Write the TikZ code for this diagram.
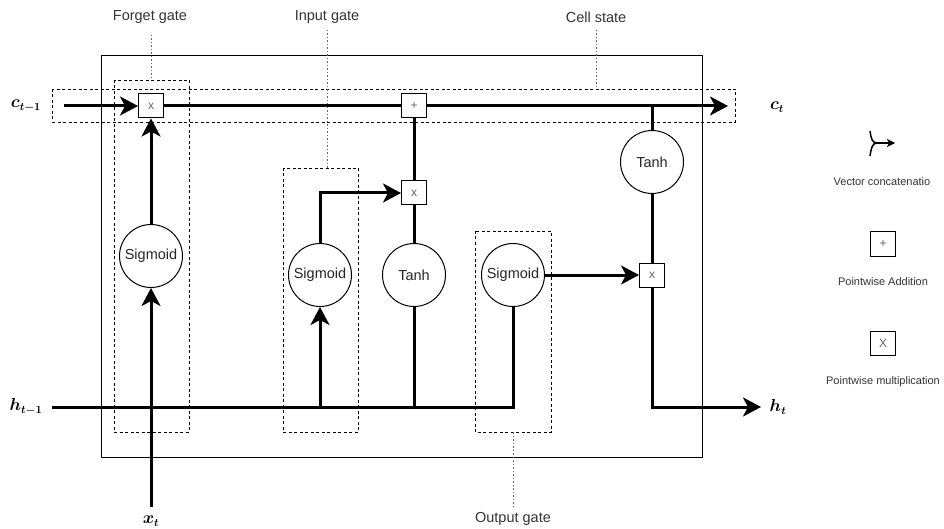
\documentclass[tikz,border=0pt]{standalone}
\usepackage{fontspec}
\setmainfont{Liberation Sans}
\usetikzlibrary{arrows.meta}

\definecolor{txt}{HTML}{333333}
\definecolor{boxtxt}{HTML}{666666}

\tikzset{
  flow/.style={line width=3pt},
  flowarrow/.style={line width=3pt, -{Stealth[length=18pt,width=19pt,inset=5pt]}},
  cellbox/.style={draw, line width=1pt},
  gatebox/.style={draw, line width=0.9pt, dash pattern=on 3pt off 2.5pt},
  hint/.style={draw=black!60, line width=0.9pt, dash pattern=on 1.5pt off 2pt},
  act/.style={circle, draw, line width=1pt, fill=white, minimum size=63pt, inner sep=0pt,
              font=\fontsize{14.5}{16}\selectfont, text=black!85},
  op/.style={rectangle, draw, line width=1pt, fill=white, minimum width=25pt, minimum height=24pt,
             inner sep=0pt, font=\fontsize{12}{13}\selectfont, text=boxtxt},
  caption/.style={font=\fontsize{14.5}{16}\selectfont, text=txt},
  legend/.style={font=\fontsize{11}{12}\selectfont, text=txt},
  var/.style={font=\fontsize{16}{18}\selectfont\boldmath},
}

\begin{document}
\begin{tikzpicture}[x=1pt, y=-1pt]
  \useasboundingbox (0,0) rectangle (944,529);

  % LSTM cell outline and gate groupings
  \draw[cellbox] (101,56) rectangle (702,457);
  \draw[gatebox] (52,89) rectangle (735,122);
  \draw[gatebox] (114,80) rectangle (189,432);
  \draw[gatebox] (283,168) rectangle (358,432);
  \draw[gatebox] (475,231) rectangle (551,432);

  % group captions with their leader lines
  \node[caption] (capF) at (150,17) {Forget gate};
  \node[caption] (capI) at (327,17) {Input gate};
  \node[caption] (capC) at (596,17) {Cell state};
  \node[caption] (capO) at (513,519) {Output gate};
  \draw[hint] (151,35) -- (151,80);
  \draw[hint] (327,30) -- (327,168);
  \draw[hint] (596,30) -- (596,89);
  \draw[hint] (513,432) -- (513,508);

  % activations
  \node[act] (sigF) at (151,256) {Sigmoid};
  \node[act] (sigI) at (320,275) {Sigmoid};
  \node[act] (tanhI) at (414,275) {Tanh};
  \node[act] (sigO) at (513,275) {Sigmoid};
  \node[act] (tanhO) at (652,162) {Tanh};

  % pointwise operations
  \node[op] (mulF) at (151,106) {x};
  \node[op] (add) at (414,106) {+};
  \node[op] (mulI) at (414,193) {x};
  \node[op] (mulO) at (652,275) {x};

  % inputs, outputs and junctions
  \node[var] (lcin) at (26,106) {$c_{t-1}$};
  \node[var] (lcout) at (777,107) {$c_t$};
  \node[var] (lhin) at (26,407) {$h_{t-1}$};
  \node[var] (lhout) at (778,407) {$h_t$};
  \node[var] (lx) at (151,521) {$x_t$};
  \coordinate (cin) at (64,106);
  \coordinate (cout) at (728,106);
  \coordinate (hin) at (52,407);
  \coordinate (hout) at (761,407);
  \coordinate (xin) at (151,507);
  \coordinate (tap) at (652,106);

  % hidden-state bus
  \draw[flow] (hin) -| (sigO.south);
  \draw[flowarrow] (xin) -- (sigF.south);

  % cell state
  \draw[flowarrow] (cin) -- (mulF.west);
  \draw[flow] (mulF.east) -- (add.west);
  \draw[flowarrow] (add.east) -- (cout);

  % forget gate
  \draw[flowarrow] (sigF.north) -- (mulF.south);

  % input gate
  \draw[flowarrow] (sigI.south |- hin) -- (sigI.south);
  \draw[flowarrow] (sigI.north) |- (mulI.west);
  \draw[flow] (tanhI.south |- hin) -- (tanhI.south);
  \draw[flow] (tanhI.north) -- (mulI.south);
  \draw[flow] (mulI.north) -- (add.south);

  % output gate
  \draw[flowarrow] (sigO.east) -- (mulO.west);
  \draw[flow] (tap) -- (tanhO.north);
  \draw[flow] (tanhO.south) -- (mulO.north);
  \draw[flowarrow] (mulO.south) |- (hout);

  % legend
  \coordinate (jn) at (877,143);
  \coordinate (ja) at (870,131);
  \coordinate (jb) at (870,156);
  \coordinate (jt) at (895,143);
  \draw[line width=1.5pt] (ja) .. controls (871,138) and (872,143) .. (jn);
  \draw[line width=1.5pt] (jb) .. controls (871,149) and (872,143) .. (jn);
  \draw[line width=1.5pt, -{Stealth[length=8pt,width=8pt,inset=2pt]}] (jn) -- (jt);
  \node[legend] (lgC) at (882,182) {Vector concatenatio};
  \node[op] (lgAdd) at (883,244) {+};
  \node[legend] (lgA) at (883,282) {Pointwise Addition};
  \node[op] (lgMul) at (883,343) {X};
  \node[legend] (lgM) at (883,382) {Pointwise multiplication};
\end{tikzpicture}
\end{document}
